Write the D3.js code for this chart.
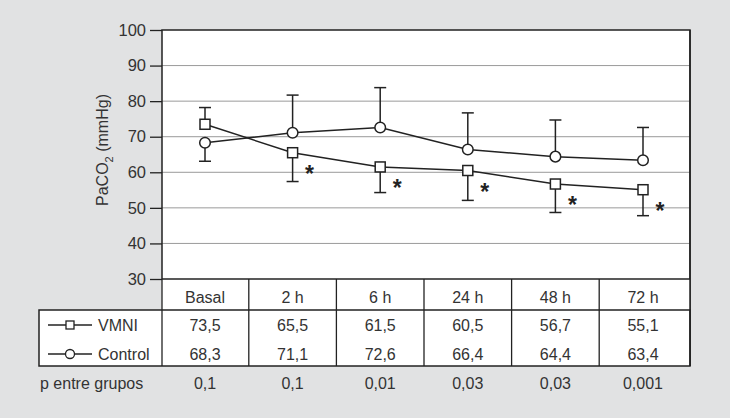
<!DOCTYPE html>
<html><head><meta charset="utf-8">
<script src="https://cdn.jsdelivr.net/npm/d3@7"></script>
<style>
html,body{margin:0;padding:0;background:#e1e2e3;}
svg{display:block;font-family:"Liberation Sans",Arial,Helvetica,sans-serif;}
</style></head>
<body>
<svg id="chart" width="730" height="418"></svg>
<script>
const categories = ["Basal", "2 h", "6 h", "24 h", "48 h", "72 h"];
const vmniValues = [73.5, 65.5, 61.5, 60.5, 56.7, 55.1];
const controlValues = [68.3, 71.1, 72.6, 66.4, 64.4, 63.4];
const vmniSD = [4.7, 8.1, 7.2, 8.4, 8.0, 7.3];
const controlSD = [5.2, 10.6, 11.2, 10.3, 10.3, 9.2];
const vmniLabels = ["73,5", "65,5", "61,5", "60,5", "56,7", "55,1"];
const controlLabels = ["68,3", "71,1", "72,6", "66,4", "64,4", "63,4"];
const pValues = ["0,1", "0,1", "0,01", "0,03", "0,03", "0,001"];
const significant = [false, true, true, true, true, true];
const yTicks = [30, 40, 50, 60, 70, 80, 90, 100];

const svg = d3.select("#chart");
const W = 730, H = 418;
const L = 162, R = 690, T = 30, B = 279;
const textCol = "#333";
const dark = "#222";

svg.append("rect").attr("width", W).attr("height", H).attr("fill", "#e1e2e3");

const y = d3.scaleLinear().domain([30, 100]).range([B, T]);
const x = d3.scalePoint().domain(categories).range([205, 643]);

// plot background
svg.append("rect").attr("x", L).attr("y", T).attr("width", R - L).attr("height", B - T).attr("fill", "#fff");

// grid lines
svg.append("g").selectAll("line").data(yTicks.filter(d => d > 30 && d < 100)).join("line")
  .attr("x1", L).attr("x2", R).attr("y1", d => y(d)).attr("y2", d => y(d))
  .attr("stroke", "#9a9a9a").attr("stroke-width", 1);

// y axis
const yAxis = d3.axisLeft(y).tickValues(yTicks).tickSize(12).tickPadding(4);
const gy = svg.append("g").attr("transform", `translate(${L},0)`).call(yAxis);
gy.select(".domain").remove();
gy.selectAll(".tick line").attr("stroke", dark).attr("stroke-width", 1.3);
gy.selectAll(".tick text").attr("font-size", 16.5).attr("fill", textCol)
  .attr("font-family", "'Liberation Sans',Arial,sans-serif");

// frame
svg.append("path").attr("d", `M${L},${B}V${T}H${R}V366`).attr("fill", "none").attr("stroke", dark).attr("stroke-width", 1.5);

// axis label
const yl = svg.append("text").attr("transform", "translate(108,150) rotate(-90)")
  .attr("text-anchor", "middle").attr("font-size", 16).attr("fill", textCol);
yl.append("tspan").text("PaCO");
yl.append("tspan").attr("dy", 5).attr("font-size", 11).text("2");
yl.append("tspan").attr("dy", -5).text(" (mmHg)");

// error bars
function errorBars(values, sds, sign) {
  const g = svg.append("g").attr("stroke", dark).attr("stroke-width", 1.5);
  values.forEach((v, i) => {
    const end = v + sign[i] * sds[i];
    const cx = x(categories[i]);
    g.append("line").attr("x1", cx).attr("x2", cx).attr("y1", y(v)).attr("y2", y(end));
    g.append("line").attr("x1", cx - 6).attr("x2", cx + 6).attr("y1", y(end)).attr("y2", y(end));
  });
}
const vmniDir = vmniValues.map((v, i) => v >= controlValues[i] ? 1 : -1);
const ctrlDir = controlValues.map((v, i) => v > vmniValues[i] ? 1 : -1);
errorBars(vmniValues, vmniSD, vmniDir);
errorBars(controlValues, controlSD, ctrlDir);

// lines
const line = d3.line().x((d, i) => x(categories[i])).y(d => y(d));
svg.append("path").datum(vmniValues).attr("d", line).attr("fill", "none").attr("stroke", dark).attr("stroke-width", 1.5);
svg.append("path").datum(controlValues).attr("d", line).attr("fill", "none").attr("stroke", dark).attr("stroke-width", 1.5);

// markers
svg.append("g").selectAll("rect").data(vmniValues).join("rect")
  .attr("x", (d, i) => x(categories[i]) - 5).attr("y", d => y(d) - 5)
  .attr("width", 10).attr("height", 10).attr("fill", "#fff").attr("stroke", dark).attr("stroke-width", 1.5);
svg.append("g").selectAll("circle").data(controlValues).join("circle")
  .attr("cx", (d, i) => x(categories[i])).attr("cy", d => y(d)).attr("r", 5.3)
  .attr("fill", "#fff").attr("stroke", dark).attr("stroke-width", 1.5);

// asterisks
svg.append("g").selectAll("text").data(vmniValues.map((v, i) => ({v, i})).filter(d => significant[d.i])).join("text")
  .attr("x", d => x(categories[d.i]) + 17).attr("y", d => y(d.v) + 29)
  .attr("text-anchor", "middle").attr("font-size", 23).attr("font-weight", "bold").attr("fill", dark).text("*");

// table
const rowHeadTop = B, rowHeadBot = 310, bodyBot = 366, tableLeft = 39;
svg.append("rect").attr("x", L).attr("y", rowHeadTop).attr("width", R - L).attr("height", rowHeadBot - rowHeadTop).attr("fill", "#fff");
svg.append("rect").attr("x", tableLeft).attr("y", rowHeadBot).attr("width", R - tableLeft).attr("height", bodyBot - rowHeadBot)
  .attr("fill", "#fff").attr("stroke", dark).attr("stroke-width", 1.5);
const tg = svg.append("g").attr("stroke", dark).attr("stroke-width", 1.3);
categories.forEach((c, i) => {
  const bx = i === 0 ? L : (x(categories[i - 1]) + x(c)) / 2;
  tg.append("line").attr("x1", bx).attr("x2", bx).attr("y1", rowHeadTop).attr("y2", bodyBot);
});
tg.append("line").attr("x1", L).attr("x2", R).attr("y1", B).attr("y2", B).attr("stroke-width", 1.5);
tg.append("line").attr("x1", R).attr("x2", R).attr("y1", T).attr("y2", bodyBot).attr("stroke-width", 1.5);

function rowText(labels, baseline) {
  svg.append("g").selectAll("text").data(labels).join("text")
    .attr("x", (d, i) => x(categories[i])).attr("y", baseline)
    .attr("text-anchor", "middle").attr("font-size", 16).attr("fill", textCol).text(d => d);
}
rowText(categories, 303);
rowText(vmniLabels, 331);
rowText(controlLabels, 360);
rowText(pValues, 389);

// legend cells
const lg = svg.append("g");
lg.append("line").attr("x1", 48).attr("x2", 92).attr("y1", 325).attr("y2", 325).attr("stroke", dark).attr("stroke-width", 1.5);
lg.append("rect").attr("x", 66).attr("y", 321).attr("width", 8).attr("height", 8).attr("fill", "#fff").attr("stroke", dark).attr("stroke-width", 1.3);
lg.append("line").attr("x1", 48).attr("x2", 92).attr("y1", 354).attr("y2", 354).attr("stroke", dark).attr("stroke-width", 1.5);
lg.append("circle").attr("cx", 70).attr("cy", 354).attr("r", 4.5).attr("fill", "#fff").attr("stroke", dark).attr("stroke-width", 1.3);
lg.append("text").attr("x", 98).attr("y", 331).attr("font-size", 16).attr("fill", textCol).text("VMNI");
lg.append("text").attr("x", 98).attr("y", 360).attr("font-size", 16).attr("fill", textCol).text("Control");
svg.append("text").attr("x", 40).attr("y", 389).attr("font-size", 16).attr("fill", textCol).text("p entre grupos");
</script>
</body></html>
